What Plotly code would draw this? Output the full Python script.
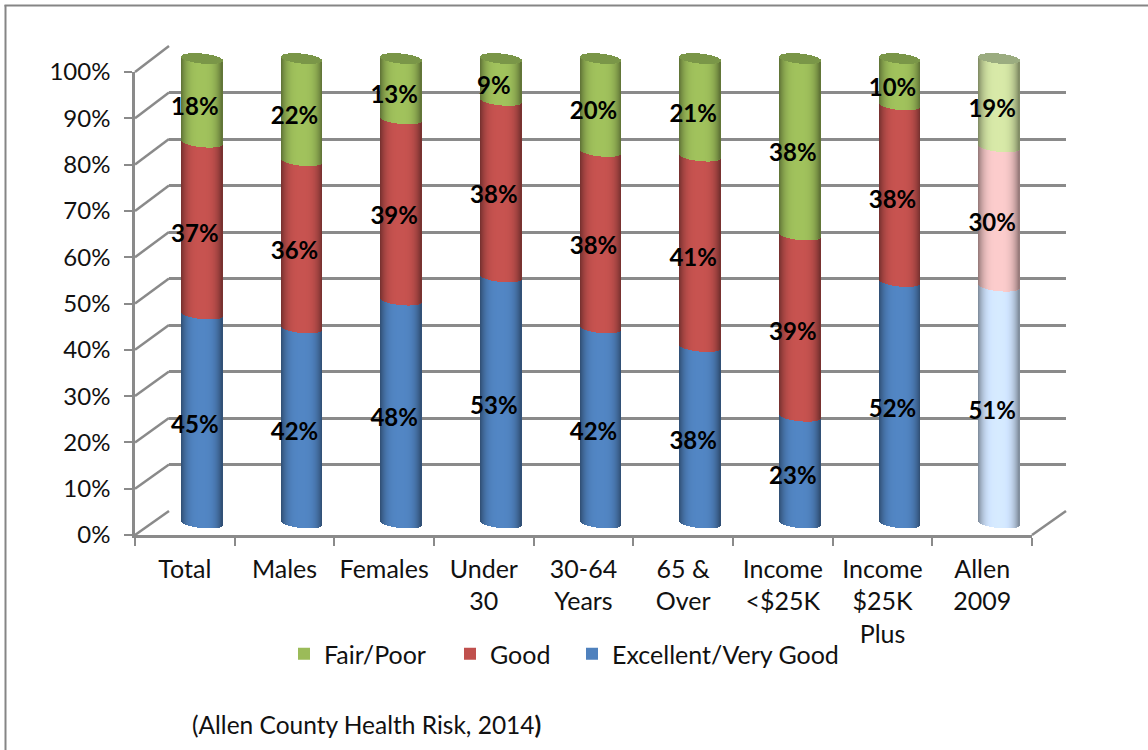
import math
import plotly.graph_objects as go

categories = ["Total", "Males", "Females", "Under<br>30", "30-64<br>Years", "65 &amp;<br>Over",
              "Income<br>&lt;$25K", "Income<br>$25K<br>Plus", "Allen<br>2009"]
excellent = [45, 42, 48, 53, 42, 38, 23, 52, 51]
good = [37, 36, 39, 38, 38, 41, 39, 38, 30]
fair = [18, 22, 13, 9, 20, 21, 38, 10, 19]
series_names = ["Excellent/Very Good", "Good", "Fair/Poor"]
series_values = [excellent, good, fair]
base_colors = [(79, 129, 189), (192, 80, 77), (155, 187, 89)]
faded_colors = [(206, 226, 252), (243, 197, 197), (208, 225, 162)]
cap_colors = [(122, 150, 72), (155, 172, 128)]
tick_values = [i / 10 for i in range(11)]

W, H = 1148, 750
GRID = "#8a8a8a"
GRID_W = 2.5
FONT = "Lato"
FS = 24
n = len(categories)

# pixel frame of the three overlaid planes
FRONT = (135, 1032, 535, 72)   # x0, x1, y(0%), y(100%)
BACK = (169, 1066, 511, 46)
BARS = (152, 1049, 523.5, 59)
BAR_PX = 41
PAD = 0.04  # headroom on the bar axis so the curved ends are not clipped


def xdom(f):
    return [f[0] / W, f[1] / W]


def ydom(f):
    return [1 - f[2] / H, 1 - f[3] / H]


cat_px = (BARS[1] - BARS[0]) / n
val_px = BARS[2] - BARS[3]
strip_w = 1 / cat_px
offsets = [(-BAR_PX / 2 + 0.5 + k) / (BAR_PX / 2) for k in range(BAR_PX)]


def shade(u):
    return 1.04 - 0.44 * abs(u - 0.0) ** 3.2


def rgb(c, f):
    return "rgb(%d,%d,%d)" % tuple(min(255, int(v * f)) for v in c)


def lower_curve(u):
    return -(5 * math.sqrt(max(0, 1 - u * u)) + 2 * u) / val_px


def upper_curve(u):
    return (5 * math.sqrt(max(0, 1 - u * u)) - 2 * u) / val_px


fig = go.Figure()

# back wall plane (drawn first)
fig.add_trace(go.Scatter(x=[0], y=[None], xaxis="x", yaxis="y", showlegend=False, hoverinfo="skip"))

# true stacked values: these carry the legend
running = [0] * n
legends = {"Excellent/Very Good": "legend3", "Good": "legend2", "Fair/Poor": "legend"}
bases = []
for name, vals, col in zip(series_names, series_values, base_colors):
    b = [r / 100 for r in running]
    bases.append(b)
    fig.add_trace(go.Bar(x=list(range(n)), y=[v / 100 for v in vals], base=b, width=0.39,
                         name=name, legend=legends[name], xaxis="x2", yaxis="y2",
                         marker=dict(color=rgb(col, 1), line=dict(width=0)), showlegend=True,
                         hoverinfo="skip"))
    running = [r + v for r, v in zip(running, vals)]

# cylinder shading: each segment is drawn as narrow vertical strips
for s, (vals, col, fade) in enumerate(zip(series_values, base_colors, faded_colors)):
    xs, ys, bs, cs = [], [], [], []
    for i in range(n):
        c = fade if i == n - 1 else col
        for u in offsets:
            lo = bases[s][i] + lower_curve(u)
            hi = bases[s][i] + vals[i] / 100 + lower_curve(u)
            xs.append(i + u * BAR_PX / 2 / cat_px)
            bs.append(lo)
            ys.append(hi - lo)
            cs.append(rgb(c, shade(u)))
    fig.add_trace(go.Bar(x=xs, y=ys, base=bs, width=strip_w, xaxis="x2", yaxis="y2",
                         marker=dict(color=cs, line=dict(width=0)), showlegend=False, hoverinfo="skip"))

# top cap of each cylinder
xs, ys, bs, cs = [], [], [], []
for i in range(n):
    top = (excellent[i] + good[i] + fair[i]) / 100
    for u in offsets:
        xs.append(i + u * BAR_PX / 2 / cat_px)
        bs.append(top + lower_curve(u))
        ys.append(upper_curve(u) - lower_curve(u))
        cs.append(rgb(cap_colors[1] if i == n - 1 else cap_colors[0], 1))
fig.add_trace(go.Bar(x=xs, y=ys, base=bs, width=strip_w, xaxis="x2", yaxis="y2",
                     marker=dict(color=cs, line=dict(width=0)), showlegend=False, hoverinfo="skip"))

# data labels
lx, ly, lt = [], [], []
for s, vals in enumerate(series_values):
    for i in range(n):
        lx.append(i - 0.07)
        ly.append(bases[s][i] + vals[i] / 200 - 0.017)
        lt.append("%d%%" % vals[i])
fig.add_trace(go.Scatter(x=lx, y=ly, text=lt, mode="text", xaxis="x2", yaxis="y2", showlegend=False,
                         textfont=dict(family=FONT, size=FS, color="black", weight="bold"),
                         textposition="middle center", hoverinfo="skip"))

# front axes
fig.add_trace(go.Scatter(x=categories, y=[None] * n, xaxis="x3", yaxis="y3", showlegend=False,
                         hoverinfo="skip"))

# side wall and floor diagonals
shapes = [
    dict(type="line", xref="paper", yref="paper", x0=5.5 / W, x1=5.5 / W, y0=0, y1=1 - 5 / H,
         line=dict(color="#858585", width=2)),
    dict(type="line", xref="paper", yref="paper", x0=4.5 / W, x1=1, y0=1 - 5.5 / H, y1=1 - 5.5 / H,
         line=dict(color="#858585", width=2)),
    dict(type="line", xref="paper", yref="paper", x0=FRONT[1] / W, x1=BACK[1] / W,
         y0=1 - FRONT[2] / H, y1=1 - BACK[2] / H, line=dict(color=GRID, width=GRID_W), layer="below"),
]
for t in tick_values:
    yf = FRONT[2] + (FRONT[3] - FRONT[2]) * t
    yb = BACK[2] + (BACK[3] - BACK[2]) * t
    shapes.append(dict(type="line", xref="paper", yref="paper", x0=FRONT[0] / W, x1=BACK[0] / W,
                       y0=1 - yf / H, y1=1 - yb / H, line=dict(color=GRID, width=GRID_W), layer="below"))

font = dict(family=FONT, size=FS, color="#111111")
font_cat = dict(family=FONT, size=25, color="#111111")
hidden = dict(visible=False, fixedrange=True)


def legend_at(x_px):
    return dict(x=x_px / W, y=1 - 631 / H, xanchor="left", yanchor="top", orientation="h",
                bgcolor="rgba(0,0,0,0)", font=font_cat, itemclick=False, itemdoubleclick=False)


bars_pad_px = PAD * val_px
fig.update_layout(
    width=W, height=H, margin=dict(l=0, r=0, t=0, b=0, autoexpand=False), autosize=False,
    paper_bgcolor="white", plot_bgcolor="rgba(0,0,0,0)", barmode="overlay", bargap=0,
    font=font, shapes=shapes,
    legend=legend_at(284), legend2=legend_at(450), legend3=legend_at(572),
    # back wall
    xaxis=dict(domain=xdom(BACK), range=[0, 1], anchor="y", **hidden),
    yaxis=dict(domain=ydom(BACK), range=[0, 1], anchor="x", visible=True, showticklabels=False, ticks="",
               showline=False, zeroline=False, showgrid=True, gridcolor=GRID, gridwidth=GRID_W,
               tickmode="array", tickvals=tick_values, fixedrange=True),
    # bars
    xaxis2=dict(domain=xdom(BARS), range=[-0.5, n - 0.5], anchor="y2", **hidden),
    yaxis2=dict(domain=[1 - (BARS[2] + bars_pad_px) / H, 1 - (BARS[3] - bars_pad_px) / H],
                range=[-PAD, 1 + PAD], anchor="x2", **hidden),
    # front axes
    xaxis3=dict(domain=xdom(FRONT), range=[-0.5, n - 0.5], anchor="y3", type="category",
                categoryorder="array", categoryarray=categories, tickson="boundaries",
                ticks="outside", ticklen=8, tickwidth=2, tickcolor=GRID, showline=True, linecolor=GRID,
                linewidth=GRID_W, showgrid=False, zeroline=False, tickfont=font_cat, tickangle=0,
                fixedrange=True, ticklabelstandoff=10),
    yaxis3=dict(domain=ydom(FRONT), range=[0, 1], anchor="x3", tickmode="array", tickvals=tick_values,
                tickformat=".0%", ticks="outside", ticklen=8, tickwidth=2, tickcolor=GRID, showline=True,
                linecolor=GRID, linewidth=GRID_W, showgrid=False, zeroline=False, tickfont=font,
                fixedrange=True, ticklabelstandoff=9),
    annotations=[dict(text="(Allen County Health Risk, 2014<b>)</b>", xref="paper", yref="paper",
                      x=190 / W, y=1 - 724 / H, xanchor="left", yanchor="middle", showarrow=False,
                      font=dict(family=FONT, size=24.5, color="#111111"))],
)

fig.write_html("out.html", config=dict(displayModeBar=False),
               post_script="document.body.style.margin='0';document.body.style.overflow='hidden';")
